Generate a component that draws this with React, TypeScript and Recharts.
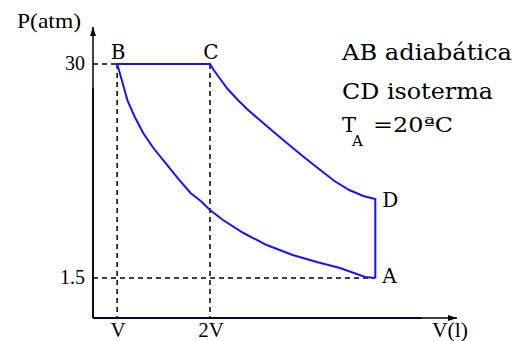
import React from 'react';
import { ComposedChart, Line, XAxis, YAxis, ReferenceLine, ReferenceDot } from 'recharts';

// volumes in units of V, pressures in atm (schematic P-V cycle)
const adiabatV = [1.0, 1.05, 1.11, 1.19, 1.28, 1.39, 1.52, 1.65, 1.79, 1.9, 2.0, 2.14, 2.36, 2.61, 2.89, 3.15, 3.4, 3.67, 3.78];
const adiabatP = [30, 27.87, 25.2, 22.94, 20.81, 18.81, 16.82, 14.82, 12.82, 11.75, 10.56, 9.22, 7.49, 5.89, 4.56, 3.63, 2.83, 1.63, 1.5];
const isothermV = [2.0, 2.04, 2.11, 2.19, 2.3, 2.41, 2.56, 2.75, 2.97, 3.16, 3.34, 3.5, 3.65, 3.78];
const isothermP = [30, 29.2, 28.0, 26.67, 25.2, 23.87, 22.28, 20.28, 18.01, 16.15, 14.42, 13.22, 12.42, 12.02];

const pointNames = ['A', 'B', 'C', 'D'];
const pointV = [3.78, 1, 2, 3.78];
const pointP = [1.5, 30, 30, 12.02];

const pTicks = [1.5, 30];
const vTicks = [1, 2];
const vTickLabels = ['V', '2V'];

const vDomain = [0.74, 4.66];
const pDomain = [-3.83, 34.93];

const BLUE = '#1414ff';
const FONT = "'Liberation Serif', 'Times New Roman', serif";
const txt = { fontFamily: FONT, fill: '#000' };
// larger captions use DejaVu Serif
const big = { fontFamily: "'DejaVu Serif', serif", fill: '#000' };

// A -> B along the adiabat, B -> C at constant pressure, C -> D isotherm, D -> A
const cycle = [
  ...adiabatV.map((v, i) => ({ v, p: adiabatP[i] })).reverse(),
  ...isothermV.map((v, i) => ({ v, p: isothermP[i] })),
  { v: pointV[0], p: pointP[0] },
];

const points = pointNames.map((name, i) => ({ name, v: pointV[i], p: pointP[i] }));

const dash = { stroke: '#000', strokeWidth: 1.5, strokeDasharray: '5 4' };

const PTick = ({ x, y, payload }: any) => (
  <text x={x} y={y + 6} textAnchor="end" fontSize={20} style={txt}>
    {payload.value}
  </text>
);

const VTick = ({ x, y, payload }: any) => (
  <text x={x + 1} y={y + 11} textAnchor="middle" fontSize={21} style={txt}>
    {vTickLabels[vTicks.indexOf(payload.value)]}
  </text>
);

const ArrowUp = ({ cx, cy }: any) => (
  <polygon points={`${cx},${cy} ${cx - 3},${cy + 9} ${cx + 3},${cy + 9}`} fill="#000" />
);

const ArrowRight = ({ cx, cy }: any) => (
  <polygon points={`${cx},${cy} ${cx - 9},${cy - 3} ${cx - 9},${cy + 3}`} fill="#000" />
);

// point letters sit above B and C, to the right of A and D
const pointLabel = (name: string) => (props: any) => {
  const { viewBox } = props;
  const cx = viewBox.x + (viewBox.width || 0) / 2;
  const cy = viewBox.y + (viewBox.height || 0) / 2;
  const above = name === 'B' || name === 'C';
  return (
    <text
      x={above ? cx + 1 : cx + 7}
      y={above ? cy - 5 : cy + (name === 'D' ? 8 : 5)}
      textAnchor={above ? 'middle' : 'start'}
      fontSize={20}
      style={big}
    >
      {name}
    </text>
  );
};

export default function App() {
  return (
    <div style={{ width: 519, height: 341, background: '#fff' }}>
      <style>{'body{margin:0}'}</style>
      <ComposedChart width={519} height={341} margin={{ top: 27, right: 62, bottom: 0, left: 0 }}>
        <XAxis
          type="number"
          dataKey="v"
          domain={vDomain}
          ticks={vTicks}
          tick={<VTick />}
          tickLine={false}
          axisLine={{ stroke: '#000', strokeWidth: 1.5 }}
          height={23}
          allowDataOverflow
        />
        <YAxis
          type="number"
          dataKey="p"
          domain={pDomain}
          ticks={pTicks}
          tick={<PTick />}
          tickLine={false}
          axisLine={{ stroke: '#000', strokeWidth: 1.5 }}
          width={93}
          allowDataOverflow
        />

        {/* blue overlay on the lower parts of both axes */}
        <ReferenceLine segment={[{ x: vDomain[0], y: 26.8 }, { x: vDomain[0], y: pDomain[0] }]} stroke={BLUE} strokeWidth={2} />
        <ReferenceLine segment={[{ x: vDomain[0], y: pDomain[0] }, { x: 4.28, y: pDomain[0] }]} stroke={BLUE} strokeWidth={2} />

        {/* guide lines */}
        <ReferenceLine segment={[{ x: vDomain[0], y: 30 }, { x: 1.28, y: 30 }]} {...dash} />
        <ReferenceLine segment={[{ x: 1, y: 30 }, { x: 1, y: pDomain[0] }]} {...dash} />
        <ReferenceLine segment={[{ x: 2, y: 30 }, { x: 2, y: pDomain[0] }]} {...dash} />
        <ReferenceLine segment={[{ x: vDomain[0], y: 1.5 }, { x: pointV[0], y: 1.5 }]} {...dash} />

        <Line
          data={cycle}
          dataKey="p"
          type="linear"
          stroke={BLUE}
          strokeWidth={2}
          dot={false}
          activeDot={false}
          isAnimationActive={false}
        />

        {points.map((pt) => (
          <ReferenceDot key={pt.name} x={pt.v} y={pt.p} r={0} stroke="none" fill="none" label={pointLabel(pt.name)} />
        ))}

        <ReferenceDot x={vDomain[0]} y={pDomain[1]} shape={<ArrowUp />} />
        <ReferenceDot x={vDomain[1]} y={pDomain[0]} shape={<ArrowRight />} />

        <g>
          <text x={17} y={28} fontSize={21} style={txt} textLength={64} lengthAdjust="spacingAndGlyphs">P(atm)</text>
          <text x={432} y={337} fontSize={21} style={txt} textLength={36} lengthAdjust="spacingAndGlyphs">V(l)</text>
          <text x={342} y={60} fontSize={23} style={big} textLength={170} lengthAdjust="spacingAndGlyphs">AB adiabática</text>
          <text x={342} y={99} fontSize={23} style={big} textLength={151} lengthAdjust="spacingAndGlyphs">CD isoterma</text>
          <text x={342} y={132} fontSize={21} style={big}>T</text>
          <text x={352} y={146} fontSize={15} style={big}>A</text>
          <text x={373} y={132} fontSize={21} style={big} textLength={80} lengthAdjust="spacingAndGlyphs">=20ªC</text>
        </g>
      </ComposedChart>
    </div>
  );
}
